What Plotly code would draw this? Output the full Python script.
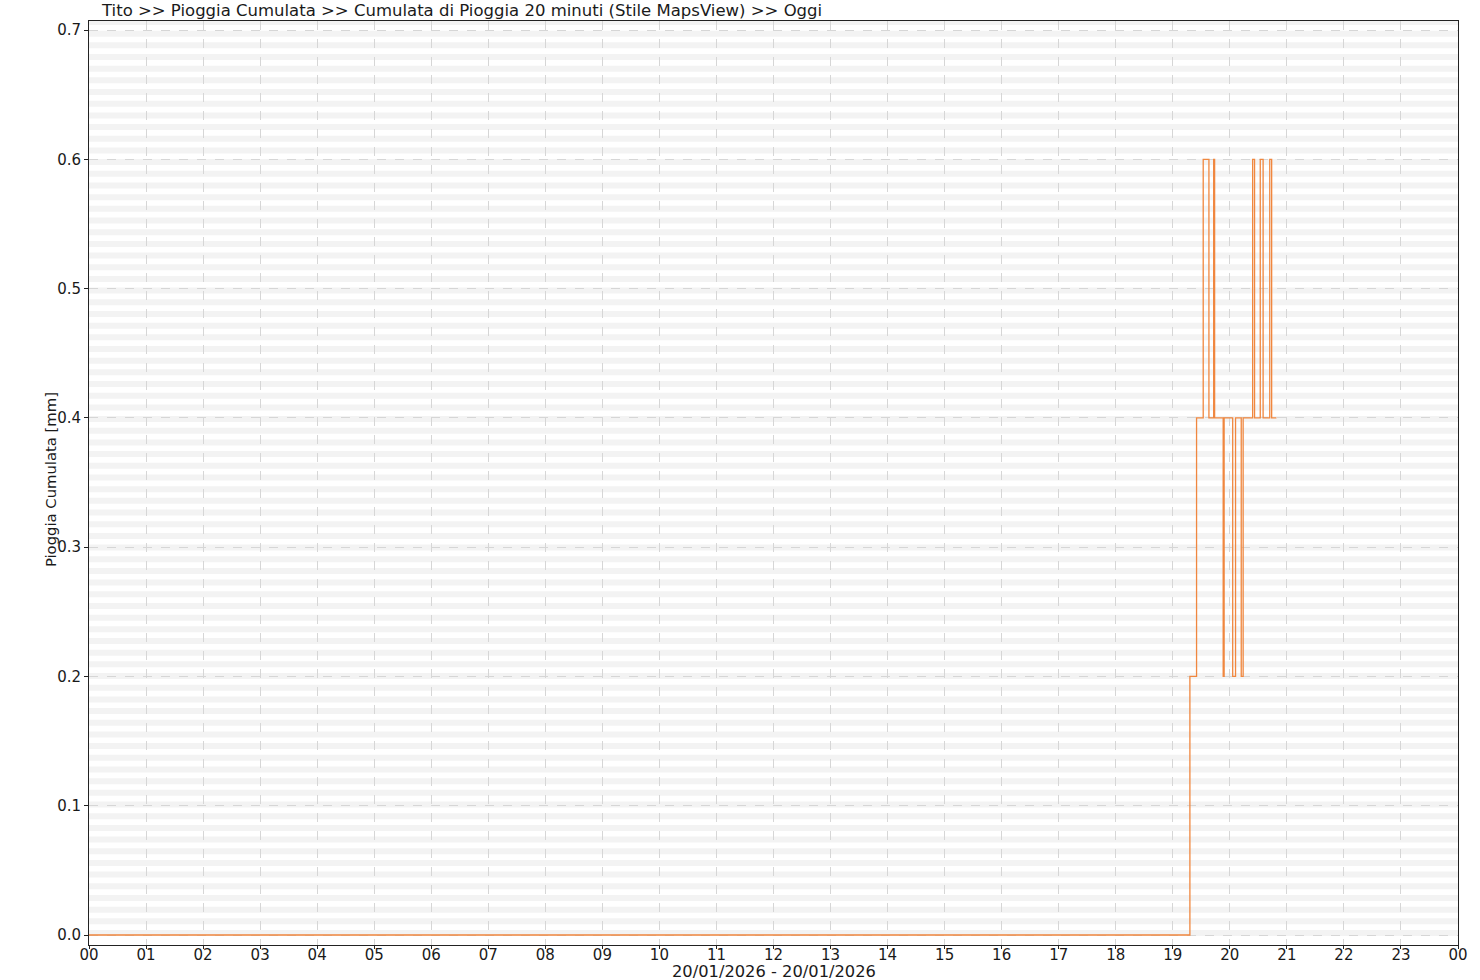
import plotly.graph_objects as go

# Data: 20-minute cumulative rain (mm), Tito, 20/01/2026 (step series)
times = [
    "2026-01-20 00:00", "2026-01-20 19:18", "2026-01-20 19:25", "2026-01-20 19:32",
    "2026-01-20 19:38", "2026-01-20 19:43", "2026-01-20 19:44", "2026-01-20 19:53",
    "2026-01-20 19:54", "2026-01-20 20:03", "2026-01-20 20:06", "2026-01-20 20:12",
    "2026-01-20 20:14", "2026-01-20 20:24", "2026-01-20 20:26", "2026-01-20 20:32",
    "2026-01-20 20:35", "2026-01-20 20:42", "2026-01-20 20:44", "2026-01-20 20:49",
]
values = [
    0.0, 0.2, 0.4, 0.6,
    0.4, 0.6, 0.4, 0.2,
    0.4, 0.2, 0.4, 0.2,
    0.4, 0.6, 0.4, 0.6,
    0.4, 0.6, 0.4, 0.4,
]
hour_labels = ["%02d" % h for h in range(24)] + ["00"]

title_text = "Tito >> Pioggia Cumulata >> Cumulata di Pioggia 20 minuti (Stile MapsView) >> Oggi"
y_title = "Pioggia Cumulata [mm]"
x_title = "20/01/2026 - 20/01/2026"

W, H = 1480, 980
ML, MR, MT, MB = 89, 18, 21, 35
PW, PH = W - ML - MR, H - MT - MB

fig = go.Figure()
fig.add_trace(go.Scatter(
    x=times, y=values, mode="lines",
    line=dict(color="#F0873F", width=1.3, shape="hv"),
    hoverinfo="x+y", showlegend=False,
))

# alternating background stripes
shapes = []
k = 0
while True:
    y0 = 9 + k * 11.68
    y1 = y0 + 6
    if y0 >= PH:
        break
    shapes.append(dict(type="rect", xref="paper", yref="paper", x0=0, x1=1,
                       y0=y0 / PH, y1=min(y1, PH) / PH, fillcolor="#f3f3f3",
                       line=dict(width=0), layer="below"))
    k += 1

font = "DejaVu Sans, Verdana, sans-serif"
tickvals = ["2026-01-20 %02d:00" % h for h in range(24)] + ["2026-01-21 00:00"]

fig.update_layout(
    autosize=True,
    margin=dict(l=ML, r=MR, t=MT, b=MB, pad=0),
    paper_bgcolor="white", plot_bgcolor="white",
    font=dict(family=font, size=15, color="#1a1a1a"),
    shapes=shapes,
    showlegend=False,
    xaxis=dict(
        type="date", range=["2026-01-20 00:00", "2026-01-21 00:00"],
        tickmode="array", tickvals=tickvals, ticktext=hour_labels,
        showgrid=True, gridcolor="#d6d6d6", griddash="dash", gridwidth=1,
        showline=True, linecolor="#222222", linewidth=1, mirror=True,
        ticks="outside", ticklen=3, tickcolor="#222222",
        ticklabelstandoff=-7,
        tickfont=dict(size=15, family=font, color="#1a1a1a"),
        zeroline=False, fixedrange=True,
    ),
    yaxis=dict(
        range=[-0.00773, 0.70696], tickmode="linear", tick0=0, dtick=0.1,
        tickformat=".1f",
        showgrid=True, gridcolor="#d6d6d6", griddash="dash", gridwidth=1,
        showline=True, linecolor="#222222", linewidth=1, mirror=True,
        ticks="outside", ticklen=4, tickcolor="#222222",
        tickfont=dict(size=15, family=font, color="#1a1a1a"),
        zeroline=False, fixedrange=True,
    ),
    annotations=[
        dict(text=title_text, xref="paper", yref="paper", x=(99 - ML) / PW, y=1,
             xanchor="left", yanchor="bottom", yshift=-1, showarrow=False,
             font=dict(size=16.5, family=font, color="#1a1a1a")),
        dict(text=y_title, xref="paper", yref="paper", x=(50 - ML) / PW, y=(945 - 480) / PH,
             xanchor="center", yanchor="middle", textangle=-90, showarrow=False,
             font=dict(size=14.8, family=font, color="#1a1a1a")),
        dict(text=x_title, xref="paper", yref="paper", x=0.5, y=0,
             xanchor="center", yanchor="top", yshift=-15, showarrow=False,
             font=dict(size=16.3, family=font, color="#1a1a1a")),
    ],
)

fig.write_html(
    "out.html",
    config={"displayModeBar": False, "responsive": True},
    default_width="100vw", default_height="100vh",
    post_script=("document.documentElement.style.overflow='hidden';"
                 "document.body.style.overflow='hidden';"
                 "document.body.style.margin='0';"
                 "window.dispatchEvent(new Event('resize'));"),
)
